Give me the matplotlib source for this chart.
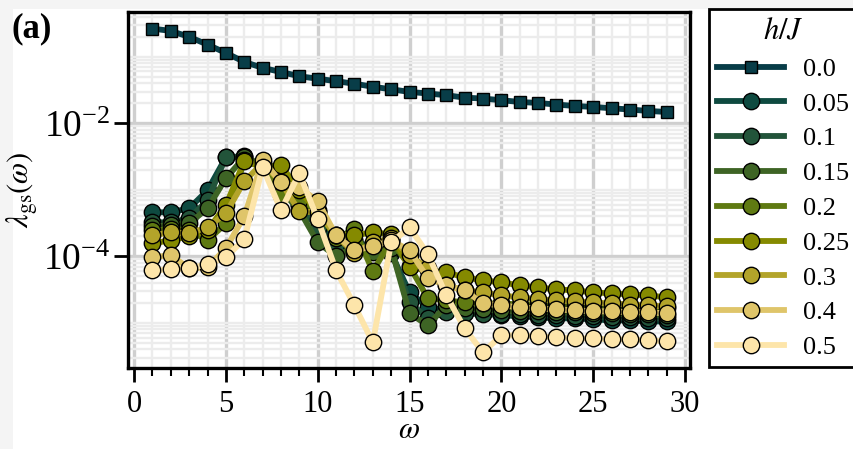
import matplotlib
matplotlib.use("Agg")
import matplotlib.pyplot as plt
from matplotlib.patches import Rectangle
from matplotlib.ticker import FixedLocator, LogLocator, MultipleLocator, NullFormatter
import numpy as np

plt.rcParams["font.family"] = ["Liberation Serif", "DejaVu Serif"]
plt.rcParams["mathtext.fontset"] = "stix"

OMEGA = np.arange(1, 30)
H_LABELS = ["0.0", "0.05", "0.1", "0.15", "0.2", "0.25", "0.3", "0.4", "0.5"]
COLORS = [
    "#083d48", "#0e4a40", "#22543a", "#3e6425", "#5f7a12",
    "#858a00", "#b3a42a", "#dfc56a", "#fde5aa",
]

# largest eigenvalue per omega, one list per h/J
LAM_00 = [0.265, 0.244, 0.199, 0.152, 0.114, 0.0836, 0.0680, 0.0590, 0.0509,
          0.0467, 0.0429, 0.0393, 0.0354, 0.0324, 0.0296, 0.0280, 0.0264,
          0.0243, 0.0235, 0.0222, 0.0209, 0.0202, 0.0191, 0.0182, 0.0176,
          0.0168, 0.0161, 0.0153, 0.0148]
LAM_005 = [4.59e-4, 4.59e-4, 5.27e-4, 9.83e-4, 3.08e-3, 3.19e-3, 2.18e-3,
           1.39e-3, 5.85e-4, 4.14e-4, 1.04e-4, 1.74e-4, 1.23e-4, 1.11e-4,
           2.87e-5, 1.71e-5, 1.54e-5, 1.44e-5, 1.39e-5, 1.30e-5, 1.26e-5,
           1.21e-5, 1.17e-5, 1.17e-5, 1.13e-5, 1.09e-5, 1.09e-5, 1.05e-5,
           1.05e-5]
LAM_01 = [3.25e-4, 3.25e-4, 3.73e-4, 6.95e-4, 3.08e-3, 3.08e-3, 2.34e-3,
          1.17e-3, 5.85e-4, 2.64e-4, 1.46e-4, 1.74e-4, 1.32e-4, 1.23e-4,
          2.03e-5, 1.17e-5, 1.44e-5, 1.39e-5, 1.35e-5, 1.35e-5, 1.35e-5,
          1.30e-5, 1.30e-5, 1.26e-5, 1.26e-5, 1.21e-5, 1.21e-5, 1.17e-5,
          1.17e-5]
LAM_015 = [2.82e-4, 2.92e-4, 3.13e-4, 5.27e-4, 1.49e-3, 3.08e-3, 2.34e-3,
           9.83e-4, 4.92e-4, 1.62e-4, 1.00e-4, 1.41e-4, 1.15e-4, 1.32e-4,
           1.39e-5, 9.17e-6, 1.83e-5, 1.65e-5, 1.59e-5, 1.54e-5, 1.49e-5,
           1.49e-5, 1.44e-5, 1.44e-5, 1.39e-5, 1.39e-5, 1.35e-5, 1.35e-5,
           1.30e-5]
LAM_02 = [2.46e-4, 2.55e-4, 2.46e-4, 1.74e-4, 3.13e-4, 2.78e-3, 2.34e-3,
          8.26e-4, 6.95e-4, 4.92e-4, 1.87e-4, 2.55e-4, 5.95e-5, 1.74e-4,
          7.07e-5, 2.34e-5, 2.18e-5, 2.03e-5, 1.96e-5, 1.96e-5, 1.89e-5,
          1.89e-5, 1.83e-5, 1.83e-5, 1.77e-5, 1.77e-5, 1.71e-5, 1.71e-5,
          1.65e-5]
LAM_025 = [1.57e-4, 1.74e-4, 2.00e-4, 2.46e-4, 5.85e-4, 2.69e-3, 2.18e-3,
           2.34e-3, 9.83e-4, 4.59e-4, 2.07e-4, 2.07e-4, 2.30e-4, 2.14e-4,
           6.83e-5, 6.16e-5, 5.75e-5, 4.83e-5, 4.36e-5, 4.07e-5, 3.66e-5,
           3.41e-5, 3.19e-5, 3.08e-5, 2.87e-5, 2.78e-5, 2.68e-5, 2.59e-5,
           2.42e-5]
LAM_03 = [2.07e-4, 2.30e-4, 2.22e-4, 2.72e-4, 4.44e-4, 1.34e-3, 2.51e-3,
          1.30e-3, 4.75e-4, 4.59e-4, 2.07e-4, 1.11e-4, 1.62e-4, 1.87e-4,
          1.04e-4, 6.60e-5, 3.66e-5, 3.08e-5, 2.87e-5, 2.59e-5, 2.42e-5,
          2.26e-5, 2.18e-5, 2.11e-5, 2.03e-5, 1.96e-5, 1.89e-5, 1.83e-5,
          1.77e-5]
LAM_04 = [9.70e-5, 1.04e-4, 6.60e-5, 6.83e-5, 1.32e-4, 4.00e-4, 2.78e-3,
          1.30e-3, 1.09e-3, 6.71e-4, 2.07e-4, 1.23e-4, 1.41e-4, 1.74e-4,
          1.23e-4, 4.67e-5, 3.66e-5, 3.08e-5, 1.96e-5, 1.83e-5, 1.71e-5,
          1.65e-5, 1.59e-5, 1.54e-5, 1.49e-5, 1.49e-5, 1.44e-5, 1.44e-5,
          1.39e-5]
LAM_05 = [6.16e-5, 6.38e-5, 6.60e-5, 7.58e-5, 9.70e-5, 1.80e-4, 2.18e-3,
          4.92e-4, 1.77e-3, 3.60e-4, 6.16e-5, 1.83e-5, 5.09e-6, 1.62e-4,
          2.72e-4, 1.08e-4, 2.59e-5, 8.27e-6, 3.60e-6, 6.49e-6, 6.49e-6,
          6.27e-6, 6.06e-6, 5.85e-6, 5.85e-6, 5.65e-6, 5.65e-6, 5.46e-6,
          5.27e-6]
ALL_LAM = [LAM_00, LAM_005, LAM_01, LAM_015, LAM_02, LAM_025, LAM_03,
           LAM_04, LAM_05]

fig = plt.figure(figsize=(8.54, 4.49), dpi=100, facecolor="#f4f4f4")
fig.patches.append(
    Rectangle((13 / 854, 0), 1, 1 - 9 / 449, transform=fig.transFigure,
              facecolor="white", edgecolor="none", zorder=-10)
)
ax = fig.add_axes([128 / 854, 1 - 368 / 449, 562 / 854, 356 / 449])

for ind, (lab, ys) in enumerate(zip(H_LABELS, ALL_LAM)):
    ax.plot(
        OMEGA,
        ys,
        color=COLORS[ind],
        lw=4.2,
        marker="s" if ind == 0 else "o",
        markersize=9.2 if ind == 0 else 11.8,
        markerfacecolor=COLORS[ind],
        markeredgecolor="black",
        markeredgewidth=1.0,
        label=lab,
        zorder=3,
    )

ax.set_yscale("log")
ax.set_xlim(-0.33, 30.27)
ax.set_ylim(2.1e-6, 0.47)
ax.xaxis.set_major_locator(MultipleLocator(5))
ax.xaxis.set_minor_locator(MultipleLocator(1))
ax.yaxis.set_major_locator(FixedLocator([1e-6, 1e-4, 1e-2, 1]))
ax.yaxis.set_minor_locator(LogLocator(base=10, subs=np.arange(1, 10), numticks=50))
ax.yaxis.set_minor_formatter(NullFormatter())

ax.grid(which="major", color="#cfcfcf", lw=2.4)
ax.grid(which="minor", color="#ececec", lw=1.7)
ax.set_axisbelow(True)

for sp in ax.spines.values():
    sp.set_linewidth(2.4)
ax.tick_params(axis="x", which="major", direction="out", length=10, width=2,
               labelsize=22, pad=6)
ax.tick_params(axis="x", which="minor", direction="out", length=6, width=1.5)
ax.tick_params(axis="y", which="major", direction="out", length=10, width=2,
               labelsize=27, pad=3)
ax.tick_params(axis="y", which="minor", length=0)

ax.set_xlabel(r"$\omega$", fontsize=22, labelpad=-2)
ax.set_ylabel(r"$\lambda_{\rm gs}(\omega)$", fontsize=22, labelpad=2)

leg = fig.legend(
    loc="upper left",
    bbox_to_anchor=(709 / 854, 1 - 9 / 449),
    title=r"$h/J$",
    title_fontsize=22,
    fontsize=19,
    handlelength=2.55,
    handletextpad=0.7,
    labelspacing=0.43,
    borderpad=0.3,
    frameon=True,
    fancybox=False,
    framealpha=1,
    edgecolor="black",
    borderaxespad=0,
)
leg.get_frame().set_linewidth(2.0)

fig.text(12 / 854, 1 - 12 / 449, "(a)", fontsize=25, fontweight="bold",
         va="top", ha="left")

fig.savefig("out.png", dpi=100, facecolor=fig.get_facecolor())
